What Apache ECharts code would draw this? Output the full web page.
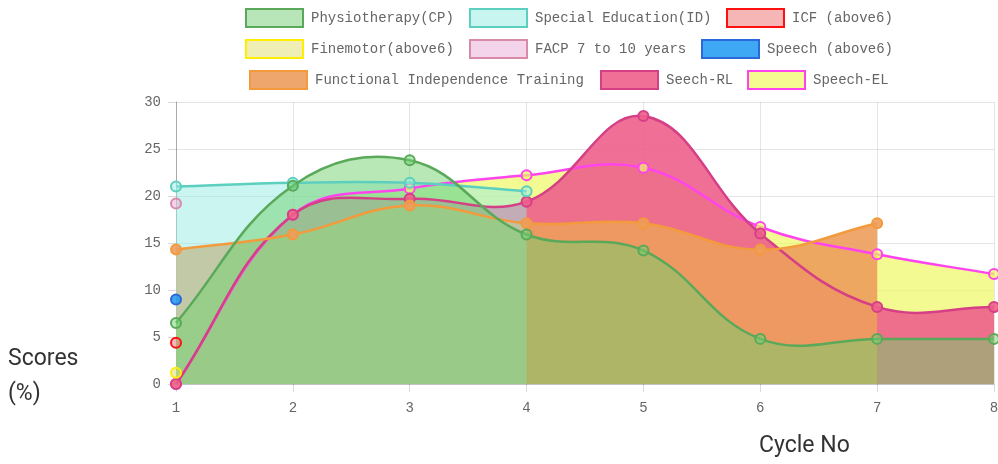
<!DOCTYPE html>
<html>
<head>
<meta charset="utf-8">
<script src="https://cdn.jsdelivr.net/npm/echarts@6/dist/echarts.min.js"></script>
<style>
  html, body { margin: 0; padding: 0; background: #fff; }
  #chart { width: 998px; height: 464px; }
</style>
</head>
<body>
<div id="chart"></div>
<script>
var cycles = ['1', '2', '3', '4', '5', '6', '7', '8'];

var physiotherapy = [6.5, 21.1, 23.8, 15.9, 14.2, 4.8, 4.8, 4.8];
var specialEducation = [21.0, 21.4, 21.4, 20.5, null, null, null, null];
var icf = [4.4, null, null, null, null, null, null, null];
var finemotor = [1.2, null, null, null, null, null, null, null];
var facp = [19.2, null, null, null, null, null, null, null];
var speechAbove6 = [9.0, null, null, null, null, null, null, null];
var functionalTraining = [14.3, 15.9, 19.0, 17.1, 17.1, 14.3, 17.1, null];
var seechRL = [0, 18.0, 19.7, 19.4, 28.5, 16.0, 8.2, 8.2];
var speechEL = [0, 18.0, 20.8, 22.2, 23.0, 16.7, 13.8, 11.7];

var names = ['Physiotherapy(CP)', 'Special Education(ID)', 'ICF (above6)',
  'Finemotor(above6)', 'FACP 7 to 10 years', 'Speech (above6)',
  'Functional Independence Training', 'Seech-RL', 'Speech-EL'];
var values = [physiotherapy, specialEducation, icf, finemotor, facp,
  speechAbove6, functionalTraining, seechRL, speechEL];

// border / line colours and fill colours (fill is drawn translucent)
var lineColors = ['#5aa95a', '#5ccfbf', '#ff1010', '#ffee00', '#d98aa8',
  '#2a68dc', '#f39a3c', '#d43f86', '#ff44ee'];
var fillColors = ['rgba(112,210,110,0.5)', 'rgba(150,235,225,0.5)',
  'rgba(240,128,128,0.55)', 'rgba(220,220,110,0.5)', 'rgba(235,170,215,0.5)',
  'rgba(30,150,240,0.85)', 'rgba(237,157,92,0.9)', 'rgba(237,95,139,0.9)',
  'rgba(240,248,100,0.7)'];
var legendSwatch = ['#b9e6b9', '#c9f5f0', '#f7b6b6', '#efefb5', '#f4d4ea',
  '#3ea8f4', '#efa66c', '#ef6f96', '#f5fa91'];

// legend box positions [left, top]
var legendPos = [[245, 8], [469, 8], [726, 8],
  [245, 39], [469, 39], [701, 39],
  [249, 70], [600, 70], [747, 70]];

var TENSION = 0.4;

// spline through the pixel points, same way as a tension-based line chart does it
function splinePath(api, vals, closeToZero) {
  var pts = [];
  vals.forEach(function (v, k) {
    if (v != null) pts.push(api.coord([k, v]));
  });
  if (pts.length < 2) return null;
  var top = api.coord([0, 30])[1];
  var base = api.coord([0, 0])[1];
  var leftX = api.coord([0, 0])[0];
  var rightX = api.coord([cycles.length - 1, 0])[0];
  function cap(p) {
    return [Math.min(Math.max(p[0], leftX), rightX), Math.min(Math.max(p[1], top), base)];
  }
  var cps = pts.map(function (cur, k) {
    var prev = pts[k - 1] || cur;
    var next = pts[k + 1] || cur;
    var d01 = Math.hypot(cur[0] - prev[0], cur[1] - prev[1]);
    var d12 = Math.hypot(next[0] - cur[0], next[1] - cur[1]);
    var s01 = d01 / (d01 + d12) || 0;
    var s12 = d12 / (d01 + d12) || 0;
    var fa = TENSION * s01, fb = TENSION * s12;
    return {
      before: cap([cur[0] - fa * (next[0] - prev[0]), cur[1] - fa * (next[1] - prev[1])]),
      after: cap([cur[0] + fb * (next[0] - prev[0]), cur[1] + fb * (next[1] - prev[1])])
    };
  });
  var d = 'M' + pts[0][0] + ' ' + pts[0][1];
  for (var k = 1; k < pts.length; k++) {
    var a = cps[k - 1].after, b = cps[k].before;
    d += ' C' + a[0] + ' ' + a[1] + ' ' + b[0] + ' ' + b[1] + ' ' + pts[k][0] + ' ' + pts[k][1];
  }
  if (closeToZero) {
    d += ' L' + pts[pts.length - 1][0] + ' ' + base + ' L' + pts[0][0] + ' ' + base + ' Z';
  }
  return d;
}

var series = [];
var legends = [];
names.forEach(function (name, i) {
  var vals = values[i];
  var pairs = vals.map(function (v, k) { return [k, v]; });
  // fills: all below every line, first dataset on top
  series.push({
    name: name,
    type: 'custom',
    data: pairs,
    encode: { x: 0, y: 1 },
    z: 10 - i,
    silent: true,
    renderItem: function (params, api) {
      if (params.dataIndex !== 0) return null;
      var d = splinePath(api, vals, true);
      if (!d) return null;
      return { type: 'path', shape: { pathData: d }, style: { fill: fillColors[i], stroke: null } };
    }
  });
  // curve
  series.push({
    name: name,
    type: 'custom',
    data: pairs,
    encode: { x: 0, y: 1 },
    z: 40 - 2 * i,
    silent: true,
    renderItem: function (params, api) {
      if (params.dataIndex !== 0) return null;
      var d = splinePath(api, vals, false);
      if (!d) return null;
      return {
        type: 'path',
        shape: { pathData: d },
        style: { fill: null, stroke: lineColors[i], lineWidth: 2.5, lineJoin: 'round' }
      };
    }
  });
  // points
  series.push({
    name: name,
    type: 'line',
    data: vals,
    z: 41 - 2 * i,
    symbol: 'circle',
    symbolSize: 10,
    showAllSymbol: true,
    lineStyle: { width: 0, opacity: 0 },
    itemStyle: { color: fillColors[i], borderColor: lineColors[i], borderWidth: 2 }
  });
  legends.push({
    left: legendPos[i][0],
    top: legendPos[i][1],
    padding: 0,
    itemWidth: 57,
    itemHeight: 18,
    icon: 'rect',
    selectedMode: false,
    textStyle: {
      fontFamily: 'Liberation Mono',
      fontSize: 14,
      color: '#666',
      padding: [0, 0, 0, 3]
    },
    data: [{
      name: name,
      icon: 'rect',
      itemStyle: { color: legendSwatch[i], borderColor: lineColors[i], borderWidth: 2 }
    }]
  });
});

var chart = echarts.init(document.getElementById('chart'));
chart.setOption({
  backgroundColor: '#fff',
  animation: false,
  legend: legends,
  grid: { left: 176, right: 4, top: 102, bottom: 80, outerBoundsMode: 'none', containLabel: false },
  xAxis: {
    type: 'category',
    data: cycles,
    boundaryGap: false,
    axisLine: { show: true, lineStyle: { color: 'rgba(0,0,0,0.15)' } },
    axisTick: { show: true, length: 8, lineStyle: { color: 'rgba(0,0,0,0.15)' } },
    axisLabel: { margin: 17, fontFamily: 'Liberation Mono', fontSize: 14, color: '#666' },
    splitLine: { show: true, lineStyle: { color: 'rgba(0,0,0,0.1)' } }
  },
  yAxis: {
    type: 'value',
    min: 0,
    max: 30,
    interval: 5,
    axisLine: { show: true, lineStyle: { color: 'rgba(0,0,0,0.25)' } },
    axisTick: { show: true, length: 8, lineStyle: { color: 'rgba(0,0,0,0.15)' } },
    axisLabel: { margin: 15, fontFamily: 'Liberation Mono', fontSize: 14, color: '#666' },
    splitLine: { show: true, lineStyle: { color: 'rgba(0,0,0,0.1)' } }
  },
  graphic: [
    { type: 'text', left: 8, top: 348, style: { text: 'Scores', font: '23px Roboto', fill: '#333' } },
    { type: 'text', left: 8, top: 383, style: { text: '(%)', font: '23px Roboto', fill: '#333' } },
    { type: 'text', left: 759, top: 435, style: { text: 'Cycle No', font: '23px Roboto', fill: '#333' } }
  ],
  series: series
});
</script>
</body>
</html>
